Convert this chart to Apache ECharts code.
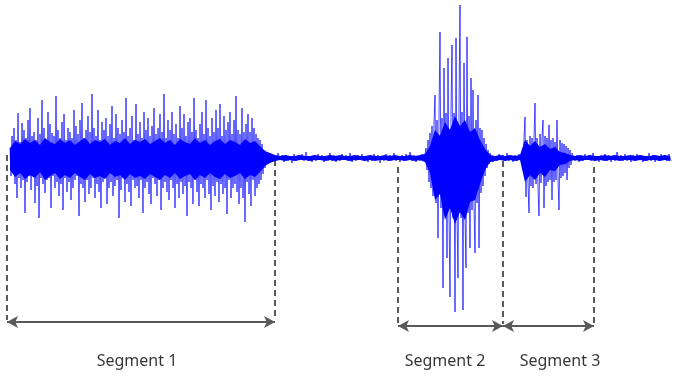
<!DOCTYPE html>
<html>
<head>
<meta charset="utf-8">
<script src="https://cdn.jsdelivr.net/npm/echarts@6/dist/echarts.min.js"></script>
<style>
  html, body, #main { margin: 0; padding: 0; width: 679px; height: 378px; background: #fff; }
</style>
</head>
<body>
<div id="main"></div>
<script>
// waveform amplitudes (px-like units, + is up)
var seg1Wave = [
  10,-18,22,-15,30,-26,18,-40,45,-20,16,-30,35,-22,28,-55,
  20,-24,38,-18,50,-32,22,-16,26,-45,18,-28,40,-60,24,-20,
  58,-26,30,-35,18,-22,46,-20,34,-50,25,-18,22,-30,62,-24,
  28,-38,20,-26,36,-52,44,-20,18,-34,30,-24,26,-42,20,-30,
  48,-22,32,-18,24,-58,38,-26,55,-30,20,-44,28,-22,42,-36,
  26,-30,64,-20,30,-40,22,-26,48,-34,18,-50,36,-24,28,-20,
  40,-46,22,-30,34,-24,52,-38,20,-28,44,-22,30,-60,24,-32,
  38,-20,26,-44,60,-26,22,-34,30,-48,42,-22,18,-30,54,-28,
  24,-40,36,-22,20,-55,46,-30,28,-24,40,-36,22,-46,32,-20,
  50,-26,24,-38,30,-22,44,-52,26,-30,64,-24,20,-34,38,-42,
  28,-22,46,-30,24,-50,34,-26,20,-40,52,-24,30,-36,44,-28,
  22,-58,36,-24,40,-30,26,-46,60,-22,28,-34,20,-48,34,-26,
  46,-30,24,-40,58,-22,30,-36,22,-52,40,-28,26,-38,48,-24,
  30,-44,54,-26,22,-36,42,-30,28,-56,36,-22,46,-40,24,-30,
  38,-26,62,-34,28,-46,24,-30,50,-40,26,-64,34,-24,44,-36,
  26,-48,40,-22,30,-38,24,-30,20,-26,18,-22,14,-16,8,-10
];
var gap1Wave = [
  4,-3,3,-4,2,-3,5,-2,3,-4,3,-3,2,-5,4,-3,
  3,-2,4,-3,6,-3,2,-4,3,-3,4,-2,3,-4,2,-3,
  5,-3,3,-4,2,-3,4,-2,3,-3,5,-4,2,-3,3,-2,
  4,-3,2,-4,3,-3,4,-2,3,-5,2,-3,4,-3,3,-2,
  5,-3,2,-4,3,-3,4,-2,6,-3,3,-4,2,-3,4,-3
];
var seg2Wave = [
  10,-12,18,-24,25,-30,32,-38,35,63,
  -45,38,-80,42,126,-50,40,-130,90,-55,
  45,-100,100,-55,-139,48,113,-60,45,-154,
  120,-58,-120,50,153,-60,46,-152,95,-58,
  -110,121,-55,42,-90,80,-52,68,-48,-95,
  38,-45,63,-90,30,-35,28,-28,20,-18,
  14,-10,8,-6,5
];
var gap2Wave = [3,-4,2,-3,4,-2,3,-3,5,-3,2,-4,3,-3,4,-2];
var seg3Wave = [
  6,-10,20,41,-39,18,-25,-55,22,-28,
  20,-30,18,55,-26,20,-30,-58,24,-25,
  20,38,-50,22,-28,20,-24,33,-22,18,
  -42,20,-24,16,-22,38,-20,-52,18,-20,
  15,-18,14,-15,12,-22,10,-10,8,-7,5
];
var gap3Wave = [
  4,-3,3,-4,2,-3,4,-2,3,-3,5,-3,2,-4,3,-2,
  4,-3,3,-4,2,-3,6,-2,3,-3,4,-3,2,-4,3,-3,
  4,-2,3,-4,2,-3,5,-3,3,-4,2,-3,4,-2,3,-3,
  4,-3
];
var partStart = [10, 266, 426, 491, 522, 573];
var partStep = [1, 2, 1, 2, 1, 2];

// dense core envelope of the signal, one value every 5 samples from x = 10
var coreStart = 10, coreStep = 5;
var coreUpper = [
  10,17,14,19,15,18,13,20,16,14,19,15,18,13,17,20,14,18,16,19,13,17,15,20,14,18,
  16,19,14,17,20,15,18,13,19,16,14,20,15,18,13,17,19,14,18,16,13,19,15,17,12,7,
  5,3,2,3,2,2,3,2,2,3,2,2,3,2,3,2,2,3,2,2,3,2,2,3,2,3,2,2,3,2,3,4,
  12,28,22,36,28,42,32,38,26,30,18,9,3,
  2,3,2,3,2,3,
  18,12,17,11,14,9,11,6,5,3,
  2,3,2,3,2,2,3,2,3,2,2,3,2,3,2,2,3,2,3,2
];
var coreLower = [
  -12,-19,-15,-21,-17,-20,-14,-22,-18,-15,-21,-17,-20,-15,-19,-22,-16,-20,-18,-21,-15,-19,-17,-22,-16,-20,
  -18,-21,-16,-19,-22,-17,-20,-15,-21,-18,-16,-22,-17,-20,-15,-19,-21,-16,-20,-18,-15,-21,-17,-19,-14,-8,
  -5,-3,-2,-3,-2,-3,-2,-2,-3,-2,-2,-3,-2,-3,-2,-2,-3,-2,-2,-3,-2,-3,-2,-2,-3,-2,-2,-3,-2,-3,-2,-4,
  -15,-42,-36,-62,-50,-66,-54,-62,-44,-42,-26,-12,-4,
  -3,-2,-3,-2,-3,-2,
  -24,-17,-22,-15,-19,-12,-13,-7,-6,-3,
  -2,-3,-2,-2,-3,-2,-3,-2,-2,-3,-2,-2,-3,-2,-3,-2,-2,-3,-2,-3
];

var segNames = ['Segment 1', 'Segment 2', 'Segment 3'];
var segFrom = [7, 398, 503];
var segTo = [275, 503, 594];
var labelX = [137, 445, 560];

var parts = [seg1Wave, gap1Wave, seg2Wave, gap2Wave, seg3Wave, gap3Wave];
var wave = [];
parts.forEach(function (p, k) {
  p.forEach(function (v, i) { wave.push([partStart[k] + i * partStep[k], v]); });
});

// dashed guides: x, top, bottom
var guides = [
  [segFrom[0], 3, -162], [segTo[0], -2, -162],
  [segFrom[1], -9, -166], [segTo[1], -3, -166], [segTo[2], -9, -166]
];
var arrowY = [-164, -168, -168];

var chart = echarts.init(document.getElementById('main'));
chart.setOption({
  animation: false,
  grid: { left: 0, right: 0, top: 0, bottom: 0 },
  xAxis: { type: 'value', min: 0, max: 679, show: false },
  yAxis: { type: 'value', min: -220, max: 158, show: false },
  series: [
    {
      type: 'custom',
      data: [0],
      renderItem: function (params, api) {
        var pts = [];
        coreUpper.forEach(function (v, i) { pts.push(api.coord([coreStart + i * coreStep, v])); });
        for (var i = coreLower.length - 1; i >= 0; i--) {
          pts.push(api.coord([coreStart + i * coreStep, coreLower[i]]));
        }
        return { type: 'polygon', shape: { points: pts }, style: { fill: '#0000ff' } };
      },
      z: 3
    },
    {
      type: 'line',
      data: wave,
      showSymbol: false,
      lineStyle: { color: '#0000ff', width: 1, opacity: 0.7 },
      z: 4
    },
    {
      type: 'custom',
      data: guides,
      renderItem: function (params, api) {
        var a = api.coord([api.value(0), api.value(1)]);
        var b = api.coord([api.value(0), api.value(2)]);
        return {
          type: 'line',
          shape: { x1: a[0], y1: a[1], x2: b[0], y2: b[1] },
          style: { stroke: '#595959', lineWidth: 2, lineDash: [6, 4] }
        };
      },
      z: 2
    },
    {
      type: 'scatter',
      symbolSize: 0,
      data: segNames.map(function (n, i) { return { name: n, value: [labelX[i], -203] }; }),
      label: {
        show: true, position: 'inside', formatter: '{b}',
        color: '#000', fontFamily: 'Noto Sans', fontSize: 16
      },
      markLine: {
        silent: true,
        symbol: ['arrow', 'arrow'],
        symbolSize: [9, 11],
        label: { show: false },
        lineStyle: { color: '#595959', width: 2, type: 'solid' },
        data: segNames.map(function (n, i) {
          return [{ coord: [segFrom[i], arrowY[i]] }, { coord: [segTo[i], arrowY[i]] }];
        })
      }
    }
  ]
});
</script>
</body>
</html>
